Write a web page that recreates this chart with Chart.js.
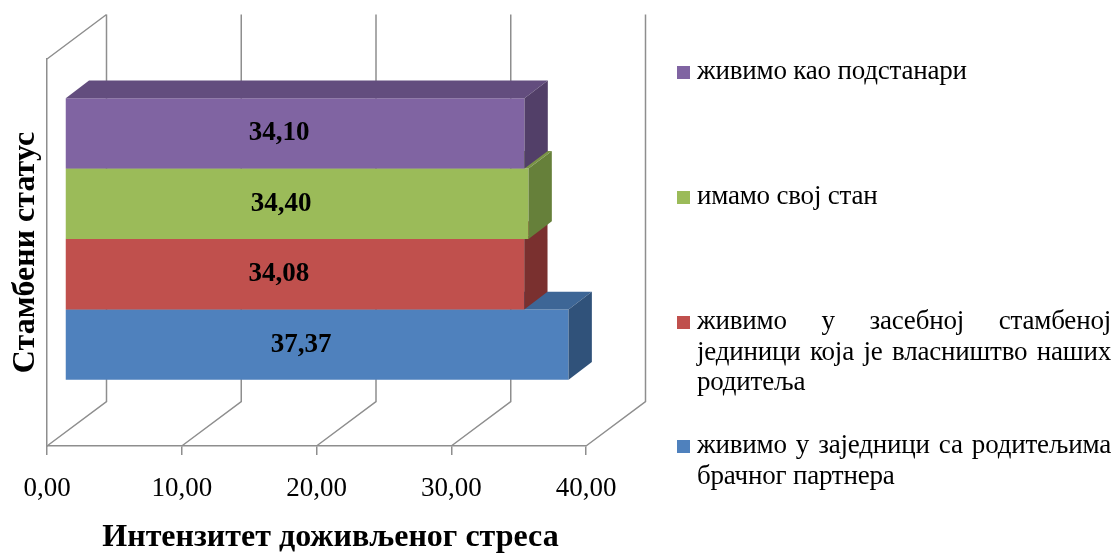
<!DOCTYPE html>
<html>
<head>
<meta charset="utf-8">
<script src="https://cdn.jsdelivr.net/npm/chart.js@4.4.0/dist/chart.umd.min.js"></script>
<style>
  html, body { margin: 0; padding: 0; background: #fff; }
  #wrap { position: relative; width: 1118px; height: 556px; }
  #legend { position: absolute; left: 677px; top: 0; width: 436px;
            font-family: "Liberation Serif", "Times New Roman", serif;
            font-size: 27px; line-height: 30.5px; letter-spacing: -0.2px; color: #000; }
  .item { position: absolute; left: 0; width: 436px; }
  .sw { position: absolute; left: 0; width: 13px; height: 13px; }
  .tx { position: absolute; left: 20px; width: 414px; text-align: justify; }
</style>
</head>
<body>
<div id="wrap">
  <canvas id="c"></canvas>
  <div id="legend"></div>
</div>
<script>
// data
const categories = ["Стамбени статус"];
const seriesNames = [
  "живимо као подстанари",
  "имамо свој стан",
  "живимо у засебној стамбеној јединици која је власништво наших родитеља",
  "живимо у заједници са родитељима брачног партнера"
];
const seriesValues = [34.10, 34.40, 34.08, 37.37];
const xTickValues = [0, 10, 20, 30, 40];
const xTitle = "Интензитет доживљеног стреса";
const yTitle = "Стамбени статус";

// colours: front / top / side
const frontColors = ["#8064A2", "#9BBB59", "#C0504D", "#4F81BD"];
const topColors = ["#634D7E", "#7A9446", "#983F3D", "#3D6696"];
const sideColors = ["#523F68", "#66803A", "#7A302F", "#30527A"];
const gridColor = "#8e8e8e";
const serif = "'Liberation Serif', 'Times New Roman', serif";

// 3d geometry
const WALL_DX = 59.5, WALL_DY = 44.5;
const BAR_OFF_X = 18, BAR_OFF_Y = 13.5;
const BAR_DX = 23.3, BAR_DY = 17.7;

const fmt = v => v.toFixed(2).replace(".", ",");

const frame3d = {
  id: "frame3d",
  beforeDatasetsDraw(chart) {
    const { ctx, chartArea: a, scales: { x } } = chart;
    ctx.save();
    ctx.strokeStyle = gridColor;
    ctx.lineWidth = 1.5;
    ctx.beginPath();
    ctx.moveTo(a.left, a.top);
    ctx.lineTo(a.left + WALL_DX, a.top - WALL_DY);
    x.ticks.forEach(t => {
      const px = x.getPixelForValue(t.value);
      ctx.moveTo(px, a.bottom);
      ctx.lineTo(px + WALL_DX, a.bottom - WALL_DY);
      ctx.lineTo(px + WALL_DX, a.top - WALL_DY);
    });
    ctx.stroke();
    ctx.restore();
    // bars sit a bit deeper than the front plane
    ctx.save();
    ctx.translate(BAR_OFF_X, -BAR_OFF_Y);
  },
  afterDatasetDraw(chart, args) {
    const ctx = chart.ctx;
    const i = args.index;
    args.meta.data.forEach(bar => {
      const { x, y, base, height } = bar.getProps(["x", "y", "base", "height"], true);
      const top = y - height / 2, bottom = y + height / 2;
      ctx.fillStyle = topColors[i];
      ctx.beginPath();
      ctx.moveTo(base, top);
      ctx.lineTo(x, top);
      ctx.lineTo(x + BAR_DX, top - BAR_DY);
      ctx.lineTo(base + BAR_DX, top - BAR_DY);
      ctx.closePath();
      ctx.fill();
      ctx.fillStyle = sideColors[i];
      ctx.beginPath();
      ctx.moveTo(x, top);
      ctx.lineTo(x + BAR_DX, top - BAR_DY);
      ctx.lineTo(x + BAR_DX, bottom - BAR_DY);
      ctx.lineTo(x, bottom);
      ctx.closePath();
      ctx.fill();
    });
  },
  afterDatasetsDraw(chart) {
    const ctx = chart.ctx;
    ctx.font = "bold 27px " + serif;
    ctx.fillStyle = "#000";
    ctx.textAlign = "center";
    ctx.textBaseline = "middle";
    chart.data.datasets.forEach((ds, i) => {
      chart.getDatasetMeta(i).data.forEach((bar, j) => {
        const { x, y, base } = bar.getProps(["x", "y", "base"], true);
        ctx.fillText(fmt(ds.data[j]), (x + base) / 2 - 16, y);
      });
    });
    ctx.restore();
    // x axis title
    const a = chart.chartArea;
    ctx.save();
    ctx.font = "bold 32px " + serif;
    ctx.fillStyle = "#000";
    ctx.textAlign = "center";
    ctx.textBaseline = "middle";
    ctx.fillText(xTitle, (a.left + a.right) / 2 + 14, 538);
    ctx.restore();
  }
};

const chart = new Chart(document.getElementById("c"), {
  type: "bar",
  data: {
    labels: categories,
    datasets: seriesNames.map((name, i) => ({
      label: name,
      data: [seriesValues[i]],
      backgroundColor: frontColors[i],
      borderWidth: 0,
      categoryPercentage: 0.7277,
      barPercentage: 1,
      clip: false
    }))
  },
  options: {
    indexAxis: "y",
    responsive: true,
    maintainAspectRatio: false,
    animation: false,
    layout: { padding: { left: 0, top: 59, right: 532, bottom: 0 } },
    plugins: { legend: { display: false }, tooltip: { enabled: false } },
    scales: {
      x: {
        min: 0,
        max: 40,
        afterBuildTicks: s => { s.ticks = xTickValues.map(v => ({ value: v })); },
        afterFit: s => { s.height = 110; },
        grid: { display: true, drawOnChartArea: false, drawTicks: true, tickLength: 9, color: gridColor, lineWidth: 1.5 },
        border: { display: true, color: gridColor, width: 1.5 },
        ticks: {
          color: "#000",
          padding: 18,
          maxRotation: 0,
          font: { family: serif, size: 27 },
          callback: v => fmt(v)
        }
      },
      y: {
        afterFit: s => { s.width = 47; },
        grid: { display: false },
        border: { display: true, color: gridColor, width: 1.5 },
        ticks: { display: false },
        title: {
          display: true,
          text: yTitle,
          color: "#000",
          font: { family: serif, size: 32, weight: "bold" },
          padding: { top: 7, bottom: 0 }
        }
      }
    }
  },
  plugins: [frame3d]
});

// legend, top to bottom in dataset order
const legendTops = [55, 180, 305, 429];
const legend = document.getElementById("legend");
chart.data.datasets.forEach((ds, i) => {
  const item = document.createElement("div");
  item.className = "item";
  item.style.top = legendTops[i] + "px";
  const sw = document.createElement("div");
  sw.className = "sw";
  sw.style.background = frontColors[i];
  sw.style.top = "11px";
  const tx = document.createElement("div");
  tx.className = "tx";
  tx.textContent = ds.label;
  item.appendChild(sw);
  item.appendChild(tx);
  legend.appendChild(item);
});
</script>
</body>
</html>
